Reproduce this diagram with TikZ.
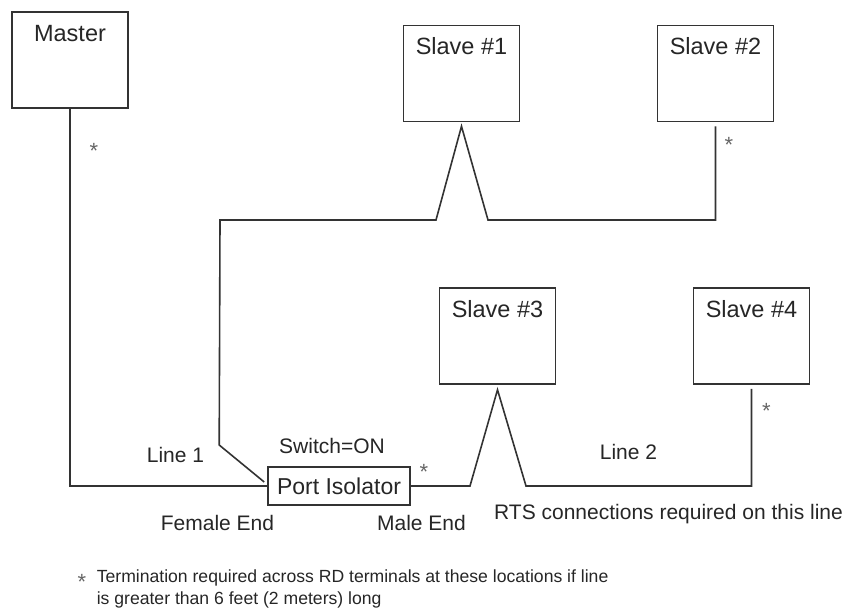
\documentclass[tikz,border=0pt]{standalone}
\usepackage{fontspec}
\setmainfont{Liberation Sans}
\usetikzlibrary{positioning}

\begin{document}
\begin{tikzpicture}[x=1pt,y=-1pt,line width=1.6pt,draw=black!80,text=black!85,
        unit/.style={draw,minimum width=116pt,minimum height=96pt,inner sep=0pt},
        title/.style={font=\fontsize{23.5}{26}\selectfont,inner sep=0pt},
        txt/.style={font=\fontsize{21}{24}\selectfont,inner sep=0pt,anchor=base},
        termstar/.style={font=\fontsize{22}{24}\selectfont,text=black!60,inner sep=0pt,anchor=base}]
        \useasboundingbox (0,0) rectangle (848,610);
        % devices
        \node[unit] (master) at (70,60) {};
        \node[unit] (slave1) at (461.5,73.5) {};
        \node[unit] (slave2) at (715.5,73.5) {};
        \node[unit] (slave3) at (497.5,336) {};
        \node[unit] (slave4) at (751.5,336) {};
        \node[title,below=13pt of master.north] (mastertxt) {Master};
        \node[title,below=12pt of slave1.north] (slave1txt) {Slave \#1};
        \node[title,below=12pt of slave2.north] (slave2txt) {Slave \#2};
        \node[title,below=12pt of slave3.north] (slave3txt) {Slave \#3};
        \node[title,below=12pt of slave4.north] (slave4txt) {Slave \#4};
        \node[draw,minimum width=142pt,minimum height=38pt,inner sep=0pt,
            font=\fontsize{23}{26}\selectfont] (iso) at (339,486) {Port Isolator};
        \coordinate (bus1) at (220,220);
        \coordinate (bus2) at (470,486);
        % line 1
        \draw (master.south) |- (iso.west);
        \draw ([shift={(-3,-4)}]iso.west) -- ++(-45,-37) -- (bus1) -- (436,220)
            -- ([yshift=-4pt]slave1.south) -- (488,220) -- (slave2.south |- bus1)
            -- ([yshift=-4pt]slave2.south);
        % line 2
        \draw (iso.east) -- (bus2) -- ([yshift=-5pt]slave3.south) -- (526,486)
            -- (slave4.south |- bus2) -- ([yshift=-4pt]slave4.south);
        % labels
        \node[txt] (line1) at (175.5,462) {Line 1};
        \node[txt] (switch) at (332,453) {Switch=ON};
        \node[txt] (female) at (217.5,530) {Female End};
        \node[txt] (male) at (421.5,530) {Male End};
        \node[txt] (line2) at (628.5,459) {Line 2};
        \node[txt] (rts) at (668.5,519) {RTS connections required on this line};
        % terminations
        \node[termstar] (t1) at (94,158.5) {*};
        \node[termstar] (t2) at (729,152.5) {*};
        \node[termstar] (t3) at (424,479) {*};
        \node[termstar] (t4) at (766.5,418.5) {*};
        \node[termstar] (t5) at (82,589) {*};
        \node[font=\fontsize{17.6}{21.5}\selectfont,inner sep=0pt,align=left,anchor=north west] (foot) at (96,569)
            {Termination required across RD terminals at these locations if line\\is greater than 6 feet (2 meters) long};
    \end{tikzpicture}
\end{document}
